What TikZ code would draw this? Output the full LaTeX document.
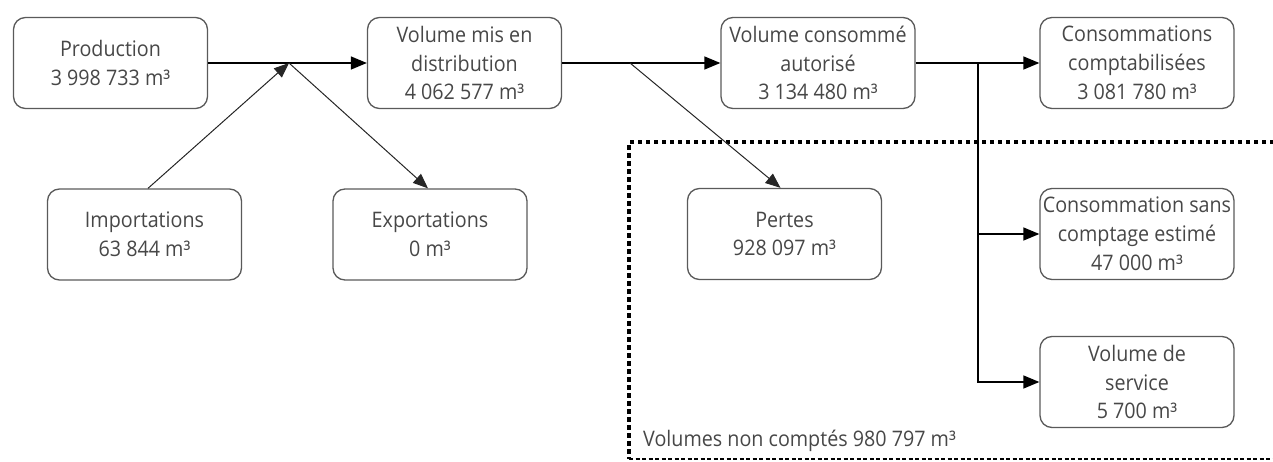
\documentclass[tikz,border=0pt]{standalone}
\usepackage{fontspec}
\setmainfont{Open Sans}[FakeStretch=0.92]
\usetikzlibrary{arrows.meta}
\definecolor{txt}{HTML}{474747}
\definecolor{bord}{HTML}{5A5A5A}
\tikzset{
  box/.style={draw=bord, line width=1.3bp, rounded corners=12bp, minimum width=194bp, minimum height=91bp,
    inner sep=0pt, align=center, text=txt, font=\fontsize{21.5}{29}\selectfont},
  mainline/.style={line width=1.4bp, draw=black},
  mainarrow/.style={mainline, -{Triangle[length=16bp,width=13bp]}},
  thinarrow/.style={line width=1bp, draw=black!85, -{Triangle[length=15bp,width=12bp]}},
  lbl/.style={text=txt, font=\fontsize{21.5}{29}\selectfont, inner sep=0pt, anchor=west}
}
\begin{document}
\begin{tikzpicture}[x=1bp,y=-1bp]
\useasboundingbox (0,0) rectangle (1273,462);
\clip (0,0) rectangle (1273,462);
% dotted region
\draw[line width=4.5bp, dash pattern=on 4.5bp off 3.5bp] (1290,142) -- (629,142) -- (629,459);
\draw[line width=2bp, dash pattern=on 4bp off 2.5bp] (629,459) -- (1290,459);
\node[lbl] (vnc) at (643,441) {Volumes non comptés 980 797 m³};
% boxes
\node[box] (prod) at (110.5,63) {Production\\3 998 733 m³};
\node[box] (vmd) at (464.5,63) {Volume mis en\\distribution\\4 062 577 m³};
\node[box] (vca) at (818,63) {Volume consommé\\autorisé\\3 134 480 m³};
\node[box] (cc) at (1137,63) {Consommations\\comptabilisées\\3 081 780 m³};
\node[box] (imp) at (144.5,234.5) {Importations\\63 844 m³};
\node[box] (exp) at (430,234.5) {Exportations\\0 m³};
\node[box] (pertes) at (784.5,234) {Pertes\\928 097 m³};
\node[box] (csc) at (1137,234) {Consommation sans\\comptage estimé\\47 000 m³};
\node[box] (vds) at (1137,382) {Volume de\\service\\5 700 m³};
% junctions
\coordinate (j1) at (289,63);
\coordinate (j2) at (630,63);
\coordinate (j3) at (978,63);
% connectors
\draw[mainarrow] (prod.east) -- (vmd.west);
\draw[thinarrow] ([xshift=3.5bp]imp.north) -- (j1);
\draw[thinarrow] (j1) -- ([xshift=-2bp]exp.north);
\draw[mainarrow] (vmd.east) -- (vca.west);
\draw[thinarrow] (j2) -- ([xshift=-4bp]pertes.north);
\draw[mainarrow] (vca.east) -- (cc.west);
\draw[mainarrow] (j3) |- (vds.west);
\draw[mainarrow] (j3 |- csc.west) -- (csc.west);
\end{tikzpicture}
\end{document}
